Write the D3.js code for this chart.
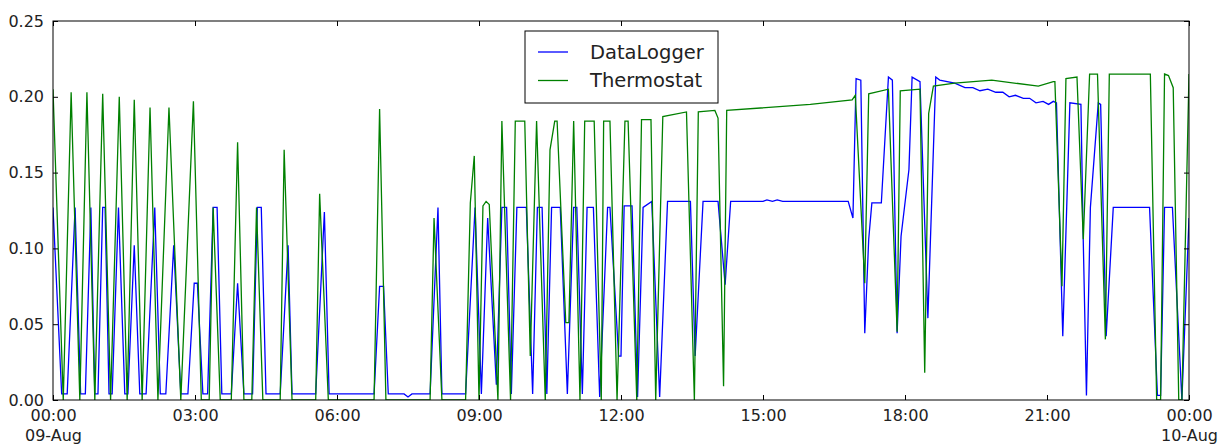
<!DOCTYPE html>
<html>
<head>
<meta charset="utf-8">
<script src="https://cdn.jsdelivr.net/npm/d3@7"></script>
<style>
  body { margin: 0; background: #fff; }
  svg { display: block; font-family: "DejaVu Sans", sans-serif; }
</style>
</head>
<body>
<div id="chart"></div>
<script>
// DataLogger readings (time of day, value)
const loggerTimes = [
  "00:00","00:11","00:18","00:28","00:35","00:41","00:48","00:53","00:57","01:03","01:06","01:11","01:15","01:23",
  "01:31","01:35","01:43","01:50","01:58","02:09","02:16","02:23","02:33","02:42","02:51","02:59","03:03","03:10",
  "03:16","03:23","03:28","03:34","03:46","03:54","04:02","04:13","04:19","04:24","04:30","04:48","04:58","05:03",
  "05:33","05:44","05:50","06:47","06:54","06:59","07:05","07:25","07:30","07:35","07:58","08:08","08:13","08:43",
  "08:55","09:03","09:11","09:22","09:29","09:35","09:41","09:48","10:00","10:08","10:14","10:20","10:26","10:32",
  "10:43","10:52","11:00","11:04","11:11","11:17","11:25","11:33","11:43","11:46","11:57","12:00","12:04","12:14",
  "12:21","12:28","12:39","12:49","12:59","13:28","13:34","13:44","14:03","14:12","14:19","15:00","15:05","15:12",
  "15:18","15:25","16:48","16:54","16:58","17:04","17:09","17:14","17:18","17:30","17:39","17:44","17:50","17:55",
  "18:05","18:09","18:19","18:29","18:39","18:44","19:03","19:16","19:26","19:35","19:45","19:55","20:04","20:12",
  "20:20","20:30","20:38","20:46","20:55","21:02","21:08","21:12","21:20","21:29","21:43","21:46","21:50","21:55",
  "22:05","22:08","22:15","22:24","23:10","23:20","23:24","23:29","23:39","23:51","24:00"
];
const loggerValues = [
  0.127,0.004,0.004,0.127,0.004,0.004,0.127,0.004,0.004,0.127,0.127,0.004,0.004,0.127,
  0.004,0.004,0.102,0.004,0.004,0.127,0.004,0.004,0.102,0.004,0.004,0.077,0.077,0.004,
  0.004,0.127,0.127,0.004,0.004,0.077,0.004,0.004,0.127,0.127,0.004,0.004,0.102,0.004,
  0.004,0.124,0.004,0.004,0.075,0.075,0.004,0.004,0.002,0.004,0.004,0.127,0.004,0.004,
  0.127,0.004,0.120,0.010,0.127,0.127,0.004,0.127,0.127,0.004,0.127,0.127,0.004,0.127,
  0.127,0.004,0.127,0.127,0.004,0.127,0.127,0.002,0.127,0.127,0.029,0.029,0.128,0.128,
  0.002,0.127,0.131,0.002,0.131,0.131,0.029,0.131,0.131,0.076,0.131,0.131,0.132,0.131,
  0.132,0.131,0.131,0.120,0.212,0.211,0.044,0.106,0.130,0.130,0.213,0.211,0.044,0.108,
  0.152,0.213,0.210,0.054,0.213,0.211,0.209,0.206,0.206,0.204,0.205,0.203,0.203,0.200,
  0.201,0.199,0.199,0.196,0.197,0.195,0.197,0.196,0.042,0.196,0.195,0.104,0.003,0.127,
  0.196,0.195,0.042,0.127,0.127,0.003,0.003,0.127,0.127,0.000,0.120
];

// Thermostat readings (time of day, value)
const thermoTimes = [
  "00:00","00:13","00:23","00:34","00:43","00:53","01:03","01:13","01:24","01:34","01:43","01:53","02:03","02:13",
  "02:27","02:42","02:58","03:08","03:18","03:23","03:32","03:46","03:54","04:02","04:12","04:18","04:26","04:48",
  "04:53","05:03","05:33","05:38","05:49","06:47","06:54","07:02","07:58","08:03","08:13","08:43","08:49","08:54",
  "09:00","09:05","09:09","09:13","09:24","09:29","09:40","09:46","09:58","10:05","10:13","10:24","10:30","10:36",
  "10:39","10:50","10:54","11:00","11:08","11:14","11:26","11:35","11:38","11:46","11:55","12:05","12:09","12:20",
  "12:26","12:38","12:44","12:53","13:23","13:33","13:38","13:59","14:03","14:10","14:14","16:00","16:53","16:57",
  "17:09","17:14","17:39","17:50","17:54","18:19","18:25","18:30","18:36","19:03","19:50","20:49","21:08","21:10",
  "21:19","21:24","21:38","21:46","21:54","22:04","22:14","22:19","23:11","23:19","23:24","23:29","23:34","23:40",
  "23:47","23:51","24:00"
];
const thermoValues = [
  0.205,0.000,0.203,0.000,0.203,0.000,0.202,0.000,0.200,0.000,0.198,0.000,0.193,0.000,
  0.193,0.000,0.197,0.000,0.000,0.127,0.000,0.000,0.170,0.000,0.000,0.127,0.000,0.000,
  0.165,0.000,0.000,0.136,0.000,0.000,0.192,0.000,0.000,0.120,0.000,0.000,0.130,0.161,
  0.000,0.128,0.131,0.129,0.000,0.184,0.000,0.184,0.184,0.029,0.184,0.000,0.165,0.184,
  0.184,0.051,0.051,0.184,0.000,0.184,0.184,0.000,0.184,0.184,0.000,0.184,0.184,0.000,
  0.185,0.185,0.000,0.187,0.190,0.000,0.190,0.191,0.186,0.009,0.191,0.195,0.198,0.201,
  0.077,0.202,0.205,0.045,0.204,0.205,0.018,0.189,0.207,0.209,0.211,0.207,0.210,0.210,
  0.075,0.212,0.213,0.106,0.215,0.215,0.040,0.215,0.215,0.000,0.000,0.215,0.214,0.206,
  0.000,0.000,0.215
];

const seriesNames = ["DataLogger", "Thermostat"];
const seriesColors = ["#0000ff", "#008000"];
const yTicks = [0, 0.05, 0.10, 0.15, 0.20, 0.25];

const width = 1225;
const height = 445;
const margin = {top: 21, right: 36, bottom: 45, left: 53};
const innerW = width - margin.left - margin.right;
const innerH = height - margin.top - margin.bottom;

const parseTime = s => {
    const [h, m] = s.split(":").map(Number);
    return new Date(2016, 7, 9, h, m);
};

const series = [
    loggerTimes.map((t, i) => ({date: parseTime(t), value: loggerValues[i]})),
    thermoTimes.map((t, i) => ({date: parseTime(t), value: thermoValues[i]}))
];

const svg = d3.select("#chart")
    .append("svg")
    .attr("width", width)
    .attr("height", height);

const g = svg.append("g")
    .attr("transform", `translate(${margin.left},${margin.top})`);

const x = d3.scaleTime()
    .domain([new Date(2016, 7, 9, 0, 0), new Date(2016, 7, 10, 0, 0)])
    .range([0, innerW]);

const y = d3.scaleLinear()
    .domain([0, 0.25])
    .range([innerH, 0]);

g.append("clipPath")
    .attr("id", "plot-clip")
    .append("rect")
    .attr("width", innerW)
    .attr("height", innerH);

const line = d3.line()
    .x(d => x(d.date))
    .y(d => y(d.value));

// Lines
series.forEach((s, i) => {
    g.append("path")
        .datum(s)
        .attr("clip-path", "url(#plot-clip)")
        .attr("fill", "none")
        .attr("stroke", seriesColors[i])
        .attr("stroke-width", 1.3)
        .attr("stroke-linejoin", "miter")
        .attr("d", line);
});

// Axes (ticks point inward, matplotlib classic style)
const hourTicks = d3.timeHour.every(3);

const xAxis = g.append("g")
    .attr("transform", `translate(0,${innerH})`)
    .call(d3.axisBottom(x).ticks(hourTicks).tickSize(-5).tickPadding(10).tickFormat(d3.timeFormat("%H:%M")));
xAxis.selectAll(".tick text").each(function(d) {
    if (d.getHours() === 0) {
        d3.select(this).append("tspan")
            .attr("x", 0)
            .attr("dy", "1.2em")
            .text(d3.timeFormat("%d-%b")(d));
    }
});

g.append("g")
    .call(d3.axisTop(x).ticks(hourTicks).tickSize(-5).tickFormat(""));

g.append("g")
    .call(d3.axisLeft(y).tickValues(yTicks).tickSize(-5).tickPadding(9).tickFormat(d3.format(".2f")));

g.append("g")
    .attr("transform", `translate(${innerW},0)`)
    .call(d3.axisRight(y).tickValues(yTicks).tickSize(-5).tickFormat(""));

g.selectAll(".domain").remove();
g.selectAll(".tick text")
    .attr("font-size", 16)
    .attr("font-family", "DejaVu Sans, sans-serif")
    .attr("fill", "#222");

// Frame
g.append("rect")
    .attr("width", innerW)
    .attr("height", innerH)
    .attr("fill", "none")
    .attr("stroke", "#000")
    .attr("stroke-width", 1);

// Legend
const legend = svg.append("g")
    .attr("transform", "translate(525,31)");

legend.append("rect")
    .attr("width", 193)
    .attr("height", 72)
    .attr("fill", "#fff")
    .attr("stroke", "#000")
    .attr("stroke-width", 1);

seriesNames.forEach((name, i) => {
    const ly = 21 + i * 28.5;
    legend.append("line")
        .attr("x1", 13).attr("x2", 43)
        .attr("y1", ly).attr("y2", ly)
        .attr("stroke", seriesColors[i])
        .attr("stroke-width", 1.3);
    legend.append("text")
        .attr("x", 65)
        .attr("y", ly)
        .attr("dominant-baseline", "central")
        .attr("font-size", 19.5)
        .attr("fill", "#222")
        .text(name);
});
</script>
</body>
</html>
